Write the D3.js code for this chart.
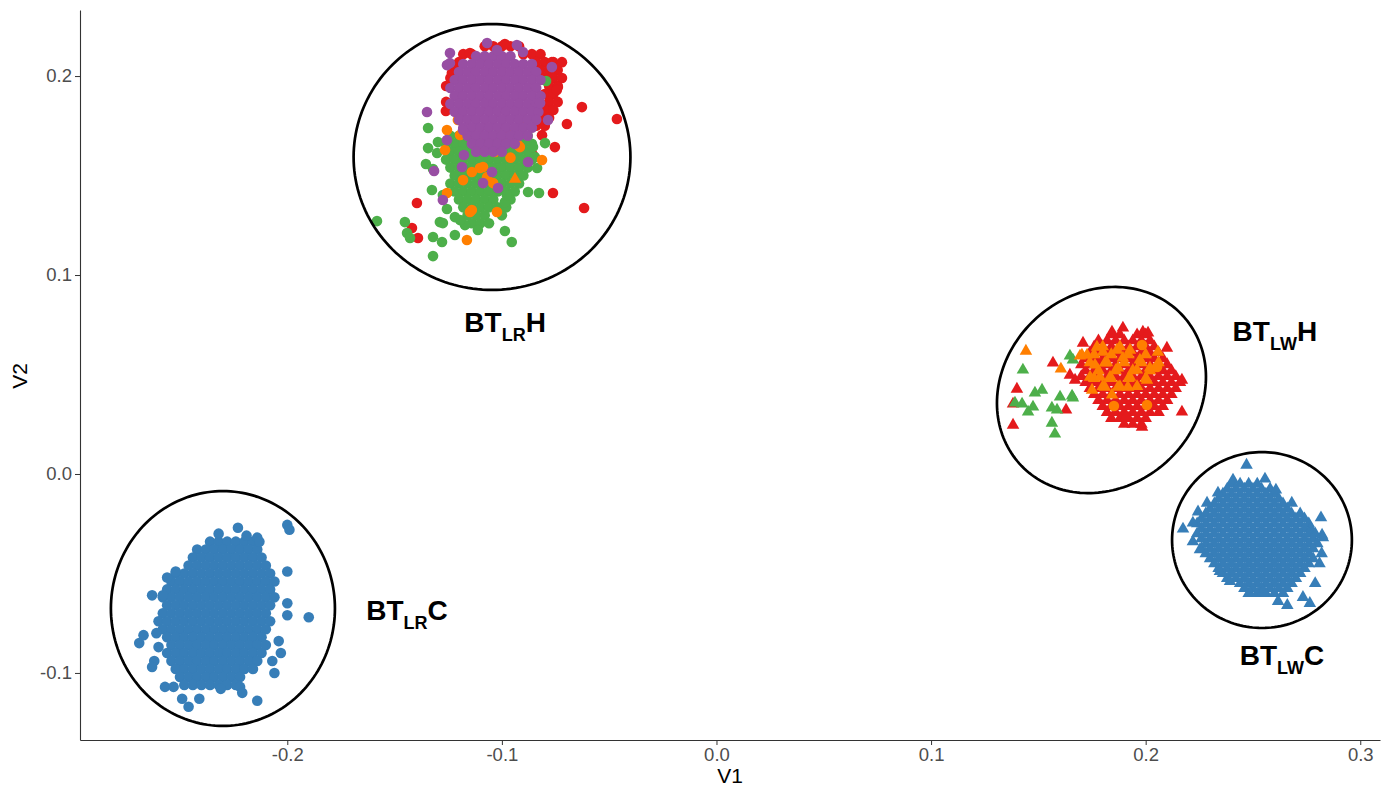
<!DOCTYPE html>
<html><head><meta charset="utf-8">
<script src="https://cdn.jsdelivr.net/npm/d3@7"></script>
<style>body{margin:0;background:#fff} text{font-family:"Liberation Sans",Arial,Helvetica,sans-serif}</style>
</head><body><svg id="c" width="1395" height="787"></svg>
<script>
// ---------- axis ticks ----------
const xTicks = [-0.2,-0.1,0.0,0.1,0.2,0.3];
const yTicks = [-0.1,0.0,0.1,0.2];
const xDomain = [-0.2966,0.3092];
const yDomain = [-0.1337,0.2332];

// ---------- colours (Set1) ----------
const colRed="#E41A1C", colBlue="#377EB8", colGreen="#4DAF4A", colPurple="#984EA3", colOrange="#FF7F00";

// rows are [V2, V1, V1, ...]
// ---------- BT_LR C (blue circles) ----------
const lrC_blueRows = [
 [-0.034,-0.236,-0.232,-0.228,-0.224,-0.220,-0.216],
 [-0.038,-0.242,-0.238,-0.234,-0.230,-0.226,-0.222,-0.218,-0.214],
 [-0.042,-0.244,-0.240,-0.236,-0.232,-0.228,-0.224,-0.220,-0.216,-0.212],
 [-0.046,-0.246,-0.242,-0.238,-0.234,-0.230,-0.226,-0.222,-0.218,-0.214,-0.210],
 [-0.050,-0.252,-0.248,-0.244,-0.240,-0.236,-0.232,-0.228,-0.224,-0.220,-0.216,-0.212,-0.208],
 [-0.054,-0.254,-0.250,-0.246,-0.242,-0.238,-0.234,-0.230,-0.226,-0.222,-0.218,-0.214,-0.210,-0.206],
 [-0.058,-0.256,-0.252,-0.248,-0.244,-0.240,-0.236,-0.232,-0.228,-0.224,-0.220,-0.216,-0.212,-0.208],
 [-0.062,-0.258,-0.254,-0.250,-0.246,-0.242,-0.238,-0.234,-0.230,-0.226,-0.222,-0.218,-0.214,-0.210,-0.206],
 [-0.066,-0.256,-0.252,-0.248,-0.244,-0.240,-0.236,-0.232,-0.228,-0.224,-0.220,-0.216,-0.212,-0.208],
 [-0.070,-0.258,-0.254,-0.250,-0.246,-0.242,-0.238,-0.234,-0.230,-0.226,-0.222,-0.218,-0.214,-0.210],
 [-0.074,-0.260,-0.256,-0.252,-0.248,-0.244,-0.240,-0.236,-0.232,-0.228,-0.224,-0.220,-0.216,-0.212,-0.208],
 [-0.078,-0.258,-0.254,-0.250,-0.246,-0.242,-0.238,-0.234,-0.230,-0.226,-0.222,-0.218,-0.214,-0.210],
 [-0.082,-0.256,-0.252,-0.248,-0.244,-0.240,-0.236,-0.232,-0.228,-0.224,-0.220,-0.216,-0.212],
 [-0.086,-0.254,-0.250,-0.246,-0.242,-0.238,-0.234,-0.230,-0.226,-0.222,-0.218,-0.214,-0.210],
 [-0.090,-0.256,-0.252,-0.248,-0.244,-0.240,-0.236,-0.232,-0.228,-0.224,-0.220,-0.216,-0.212],
 [-0.094,-0.254,-0.250,-0.246,-0.242,-0.238,-0.234,-0.230,-0.226,-0.222,-0.218,-0.214],
 [-0.098,-0.252,-0.248,-0.244,-0.240,-0.236,-0.232,-0.228,-0.224,-0.220,-0.216],
 [-0.102,-0.250,-0.246,-0.242,-0.238,-0.234,-0.230,-0.226,-0.222],
 [-0.106,-0.248,-0.244,-0.240,-0.236,-0.232,-0.228,-0.224]
];
const lrC_blue = [
 [-0.200,-0.0256],[-0.199,-0.028],[-0.190,-0.072],[-0.232,-0.030],[-0.223,-0.027],[-0.219,-0.031],
 [-0.214,-0.032],[-0.213,-0.034],[-0.200,-0.049],[-0.200,-0.065],[-0.200,-0.071],[-0.204,-0.084],
 [-0.203,-0.090],[-0.206,-0.100],[-0.214,-0.114],[-0.246,-0.117],[-0.249,-0.113],[-0.257,-0.107],
 [-0.253,-0.107],[-0.269,-0.085],[-0.267,-0.081],[-0.263,-0.061],[-0.258,-0.061],[-0.256,-0.052],
 [-0.252,-0.049],[-0.261,-0.080],[-0.260,-0.087],[-0.262,-0.094],[-0.263,-0.097],[-0.222,-0.107],
 [-0.221,-0.110],[-0.231,-0.108],[-0.241,-0.113],[-0.207,-0.094]
];

// ---------- BT_LW C (blue triangles) ----------
const lwC_blueRows = [
 [-0.0050,0.240,0.244,0.248,0.252],
 [-0.0075,0.238,0.242,0.246,0.250,0.254,0.258],
 [-0.0100,0.236,0.240,0.244,0.248,0.252,0.256,0.260],
 [-0.0125,0.234,0.238,0.242,0.246,0.250,0.254,0.258,0.262],
 [-0.0150,0.232,0.236,0.240,0.244,0.248,0.252,0.256,0.260,0.264],
 [-0.0175,0.230,0.234,0.238,0.242,0.246,0.250,0.254,0.258,0.262,0.266],
 [-0.0200,0.228,0.232,0.236,0.240,0.244,0.248,0.252,0.256,0.260,0.264,0.268,0.272],
 [-0.0225,0.226,0.230,0.234,0.238,0.242,0.246,0.250,0.254,0.258,0.262,0.266,0.270,0.274],
 [-0.0250,0.224,0.228,0.232,0.236,0.240,0.244,0.248,0.252,0.256,0.260,0.264,0.268,0.272,0.276],
 [-0.0275,0.226,0.230,0.234,0.238,0.242,0.246,0.250,0.254,0.258,0.262,0.266,0.270,0.274,0.277],
 [-0.0300,0.224,0.228,0.232,0.236,0.240,0.244,0.248,0.252,0.256,0.260,0.264,0.268,0.272,0.276,0.279],
 [-0.0325,0.226,0.230,0.234,0.238,0.242,0.246,0.250,0.254,0.258,0.262,0.266,0.270,0.274,0.278],
 [-0.0350,0.228,0.232,0.236,0.240,0.244,0.248,0.252,0.256,0.260,0.264,0.268,0.272,0.276,0.280],
 [-0.0375,0.226,0.230,0.234,0.238,0.242,0.246,0.250,0.254,0.258,0.262,0.266,0.270,0.274,0.278],
 [-0.0400,0.228,0.232,0.236,0.240,0.244,0.248,0.252,0.256,0.260,0.264,0.268,0.272,0.276],
 [-0.0425,0.230,0.234,0.238,0.242,0.246,0.250,0.254,0.258,0.262,0.266,0.270,0.274,0.278],
 [-0.0450,0.232,0.236,0.240,0.244,0.248,0.252,0.256,0.260,0.264,0.268,0.272,0.276],
 [-0.0475,0.234,0.238,0.242,0.246,0.250,0.254,0.258,0.262,0.266,0.270,0.274],
 [-0.0500,0.236,0.240,0.244,0.248,0.252,0.256,0.260,0.264,0.268,0.272],
 [-0.0525,0.238,0.242,0.246,0.250,0.254,0.258,0.262,0.266,0.270],
 [-0.0550,0.244,0.248,0.252,0.256,0.260,0.264,0.268],
 [-0.0575,0.246,0.250,0.254,0.258,0.262,0.266],
 [-0.0600,0.248,0.252,0.256,0.260,0.264]
];
const lwC_blue = [
 [0.247,0.0045],[0.2556,-0.0025],[0.2407,-0.003],[0.2607,-0.008],[0.2337,-0.0095],[0.2286,-0.0146],
 [0.2681,-0.0146],[0.2244,-0.019],[0.222,-0.0246],[0.2174,-0.0276],[0.2817,-0.022],[0.2822,-0.0307],
 [0.2826,-0.032],[0.222,-0.034],[0.2253,-0.038],[0.282,-0.040],[0.281,-0.045],[0.2346,-0.049],
 [0.2393,-0.054],[0.279,-0.055],[0.2486,-0.060],[0.2617,-0.064],[0.266,-0.066],[0.2733,-0.062],
 [0.2765,-0.065],[0.2547,-0.059]
];

// ---------- BT_LR H (circles) ----------
const lrH_redRows = [
 [0.215,-0.108,-0.104,-0.100,-0.096,-0.092],
 [0.211,-0.118,-0.114,-0.090,-0.086,-0.082],
 [0.207,-0.120,-0.084,-0.080,-0.076,-0.072],
 [0.203,-0.122,-0.082,-0.078,-0.074],
 [0.199,-0.124,-0.080,-0.076,-0.072],
 [0.195,-0.126,-0.078,-0.074],
 [0.191,-0.080,-0.076],
 [0.187,-0.126,-0.078,-0.074],
 [0.183,-0.080,-0.076],
 [0.179,-0.082,-0.078],
 [0.175,-0.084,-0.080]
];
const lrH_red = [
 [-0.1149,0.2116],[-0.0986,0.2161],[-0.1088,0.209],[-0.0767,0.207],[-0.0739,0.1945],[-0.0744,0.193],
 [-0.0627,0.1844],[-0.0464,0.1784],[-0.1261,0.1824],[-0.0697,0.1759],[-0.0753,0.1643],[-0.0813,0.1703],
 [-0.0855,0.1603],[-0.0762,0.1412],[-0.0617,0.1337],[-0.1396,0.1362],[-0.1419,0.1236],[-0.1391,0.1186],
 [-0.1233,0.2015]
];
const lrH_greenRows = [
 [0.170,-0.124,-0.120,-0.116,-0.112,-0.108,-0.104,-0.100,-0.096,-0.092,-0.088],
 [0.166,-0.126,-0.122,-0.118,-0.114,-0.110,-0.106,-0.102,-0.098,-0.094,-0.090,-0.086],
 [0.162,-0.124,-0.120,-0.116,-0.112,-0.108,-0.104,-0.100,-0.096,-0.092,-0.088],
 [0.158,-0.126,-0.122,-0.118,-0.114,-0.110,-0.106,-0.102,-0.098,-0.094,-0.090,-0.086],
 [0.154,-0.124,-0.120,-0.116,-0.112,-0.108,-0.104,-0.100,-0.096,-0.092,-0.088],
 [0.150,-0.122,-0.118,-0.114,-0.110,-0.106,-0.102,-0.098,-0.094,-0.090],
 [0.146,-0.124,-0.120,-0.116,-0.112,-0.108,-0.104,-0.100,-0.096,-0.092],
 [0.142,-0.122,-0.118,-0.114,-0.110,-0.106,-0.102,-0.098,-0.094],
 [0.138,-0.120,-0.116,-0.112,-0.108,-0.104,-0.096],
 [0.134,-0.118,-0.114,-0.110,-0.106,-0.102,-0.098],
 [0.130,-0.116,-0.112,-0.108,-0.100],
 [0.126,-0.114,-0.110,-0.106]
];
const lrH_green = [
 [-0.0794,0.1975],[-0.1344,0.1739],[-0.1298,0.1668],[-0.1344,0.1638],[-0.1302,0.1613],[-0.1354,0.1558],
 [-0.1321,0.1533],[-0.1326,0.1427],[-0.1275,0.1402],[-0.1256,0.1332],[-0.1582,0.1271],[-0.1452,0.1266],
 [-0.1442,0.1211],[-0.1428,0.1186],[-0.1289,0.1266],[-0.1275,0.1261],[-0.1321,0.1191],[-0.1279,0.1166],
 [-0.1321,0.1095],[-0.1219,0.1201],[-0.1172,0.1251],[-0.1219,0.1291],[-0.1195,0.1276],[-0.1112,0.1226],
 [-0.0986,0.1221],[-0.0954,0.1166],[-0.0986,0.1367],[-0.0977,0.1402],[-0.0878,0.1417],[-0.0827,0.1412],
 [-0.0836,0.1538],[-0.0846,0.1593],[-0.0799,0.1663],[-0.0855,0.1643]
];
const lrH_orange = [
 [-0.1256,0.1729],[-0.1265,0.1628],[-0.1181,0.1477],[-0.1140,0.1327],[-0.1023,0.1317],[-0.1163,0.1176],
 [-0.0813,0.1578],[-0.1088,0.1543],[-0.0995,0.1678],[-0.0925,0.1653],[-0.1205,0.1779],[-0.1195,0.1704],
 [-0.0977,0.1729],[-0.0916,0.1643],[-0.1032,0.1618],[-0.1102,0.1538],[-0.1140,0.1518],[-0.1069,0.1492],
 [-0.1041,0.1462],[-0.1149,0.1317],[-0.1256,0.1412],[-0.0906,0.1779],[-0.1100,0.1640],[-0.0960,0.1590]
];
const lrH_orangeTri = [[-0.0939,0.1482]];
const lrH_purpleRows = [
 [0.210,-0.112,-0.108,-0.104,-0.100,-0.096],
 [0.206,-0.118,-0.114,-0.110,-0.106,-0.102,-0.098,-0.094,-0.090,-0.086],
 [0.202,-0.120,-0.116,-0.112,-0.108,-0.104,-0.100,-0.096,-0.092,-0.088,-0.084],
 [0.198,-0.122,-0.118,-0.114,-0.110,-0.106,-0.102,-0.098,-0.094,-0.090,-0.086,-0.082],
 [0.194,-0.124,-0.120,-0.116,-0.112,-0.108,-0.104,-0.100,-0.096,-0.092,-0.088,-0.084],
 [0.190,-0.122,-0.118,-0.114,-0.110,-0.106,-0.102,-0.098,-0.094,-0.090,-0.086,-0.082],
 [0.186,-0.124,-0.120,-0.116,-0.112,-0.108,-0.104,-0.100,-0.096,-0.092,-0.088,-0.084],
 [0.182,-0.122,-0.118,-0.114,-0.110,-0.106,-0.102,-0.098,-0.094,-0.090,-0.086,-0.083],
 [0.178,-0.120,-0.116,-0.112,-0.108,-0.104,-0.100,-0.096,-0.092,-0.088,-0.084],
 [0.174,-0.118,-0.114,-0.110,-0.106,-0.102,-0.098,-0.094,-0.090,-0.086],
 [0.170,-0.116,-0.112,-0.108,-0.104,-0.100,-0.096,-0.092,-0.088],
 [0.166,-0.114,-0.110,-0.106,-0.102,-0.098,-0.094],
 [0.162,-0.112,-0.108,-0.104,-0.100]
];
const lrH_purple = [
 [-0.1069,0.2166],[-0.0930,0.2156],[-0.0902,0.2121],[-0.1242,0.2116],[-0.1256,0.2055],[-0.1242,0.2065],
 [-0.1023,0.2131],[-0.1349,0.1819],[-0.0785,0.1779],[-0.0767,0.2045],[-0.0822,0.1864],[-0.0878,0.1568],
 [-0.1046,0.1518],[-0.1088,0.1462],[-0.1018,0.1437],[-0.1275,0.1377],[-0.1316,0.1523],[-0.1177,0.1603],
 [-0.1186,0.1543],[-0.1256,0.1678],[-0.1181,0.1729]
];

// ---------- BT_LW H (triangles) ----------
const lwH_redRows = [
 [0.070,0.184,0.188,0.196,0.200],
 [0.067,0.178,0.182,0.186,0.190,0.194,0.198,0.202],
 [0.064,0.176,0.180,0.184,0.188,0.192,0.196,0.200,0.204],
 [0.061,0.174,0.178,0.182,0.186,0.190,0.194,0.198,0.202,0.206],
 [0.058,0.172,0.176,0.180,0.184,0.188,0.192,0.196,0.200,0.204,0.208],
 [0.055,0.170,0.174,0.178,0.182,0.186,0.190,0.194,0.198,0.202,0.206,0.210],
 [0.052,0.172,0.176,0.180,0.184,0.188,0.192,0.196,0.200,0.204,0.208,0.212],
 [0.049,0.170,0.174,0.178,0.182,0.186,0.190,0.194,0.198,0.202,0.206,0.210,0.214],
 [0.046,0.172,0.176,0.180,0.184,0.188,0.192,0.196,0.200,0.204,0.208,0.212,0.216],
 [0.043,0.174,0.178,0.182,0.186,0.190,0.194,0.198,0.202,0.206,0.210,0.214],
 [0.040,0.176,0.180,0.184,0.188,0.192,0.196,0.200,0.204,0.208,0.212],
 [0.037,0.178,0.182,0.186,0.190,0.194,0.198,0.202,0.206,0.210],
 [0.034,0.180,0.184,0.188,0.192,0.196,0.200,0.204,0.208],
 [0.031,0.182,0.186,0.190,0.194,0.198,0.202,0.206],
 [0.028,0.184,0.188,0.192,0.196,0.200],
 [0.025,0.190,0.194,0.198]
];
const lwH_red = [
 [0.1400,0.0427],[0.1382,0.0246],[0.1382,0.0352],[0.1568,0.0558],[0.1629,0.0322],[0.2169,0.0472],
 [0.2169,0.0312],[0.1983,0.0236],[0.1908,0.0286],[0.2099,0.0633],[0.1647,0.0497],[0.1671,0.0472],
 [0.1708,0.0658],[0.1843,0.0714],[0.1894,0.0734],[0.1987,0.0714],[0.2011,0.0709]
];
const lwH_green = [
 [0.1647,0.0593],[0.1661,0.0573],[0.1428,0.0523],[0.1517,0.0422],[0.1484,0.0407],[0.1601,0.0387],
 [0.1657,0.0392],[0.1661,0.0382],[0.1391,0.0357],[0.1424,0.0352],[0.1475,0.0337],[0.1452,0.0312],
 [0.1563,0.0332],[0.1587,0.0322],[0.1563,0.0256],[0.1577,0.0201]
];
const lwH_orangeRows = [
 [0.064,0.180,0.188],
 [0.060,0.176,0.184,0.192,0.200],
 [0.056,0.174,0.182,0.190,0.198,0.206],
 [0.052,0.178,0.186,0.194,0.202],
 [0.048,0.176,0.184,0.192,0.200],
 [0.044,0.180,0.188,0.196]
];
const lwH_orange = [
 [0.1727,0.0598],[0.1773,0.0638],[0.1801,0.0613],[0.1866,0.0623],[0.1894,0.0583],[0.1810,0.0558],
 [0.1871,0.0533],[0.1787,0.0487],[0.1810,0.0437],[0.1871,0.0437],[0.1927,0.0487],[0.2006,0.0472],
 [0.1959,0.0523],[0.2057,0.0613],[0.1741,0.0487],[0.1917,0.0437],[0.1703,0.0598],[0.1834,0.0487],
 [0.1764,0.0548],[0.1843,0.0397],[0.1973,0.0573],[0.2020,0.0533],[0.1927,0.0623],[0.1750,0.0422],
 [0.1442,0.0618],[0.1605,0.0528],[0.1694,0.0593]
];
const lwH_orangeDots = [[0.1983,0.0648],[0.2053,0.0538],[0.1852,0.0342],[0.2006,0.0347]];

// ---------- cluster ellipses (data units, rotation in degrees) ----------
const ellipses = [
 {cx:-0.1046, cy:0.1593, rx:0.0645, ry:0.0668, rot:0},
 {cx:-0.2300, cy:-0.0676, rx:0.0522, ry:0.0590, rot:0},
 {cx:0.1794, cy:0.0422, rx:0.0537, ry:0.0466, rot:58},
 {cx:0.2542, cy:-0.0332, rx:0.0419, ry:0.0442, rot:0}
];

// ---------- cluster labels ----------
const labels = [
 {pre:"BT", sub:"LR", post:"H", x:-0.1175, y:0.0714},
 {pre:"BT", sub:"LW", post:"H", x:0.2405, y:0.0668},
 {pre:"BT", sub:"LR", post:"C", x:-0.1632, y:-0.0734},
 {pre:"BT", sub:"LW", post:"C", x:0.2438, y:-0.0960}
];

// ================= drawing =================
const svg = d3.select("#c");
const x = d3.scaleLinear().domain(xDomain).range([80,1380]);
const y = d3.scaleLinear().domain(yDomain).range([740,10]);

const fromRows = rows => rows.flatMap(r => r.slice(1).map(v => [v, r[0]]));

const gPts = svg.append("g");
function dots(data, col){
  gPts.append("g").selectAll("circle").data(data).join("circle")
    .attr("cx", d=>x(d[0])).attr("cy", d=>y(d[1])).attr("r", 5.3).attr("fill", col);
}
const tri = d3.symbol().type(d3.symbolTriangle).size(68);
function tris(data, col){
  gPts.append("g").selectAll("path").data(data).join("path")
    .attr("d", tri).attr("transform", d=>`translate(${x(d[0])},${y(d[1])})`).attr("fill", col);
}

dots(fromRows(lrC_blueRows), colBlue); dots(lrC_blue, colBlue);
tris(fromRows(lwC_blueRows), colBlue); tris(lwC_blue, colBlue);
dots(fromRows(lrH_redRows), colRed); dots(lrH_red, colRed);
tris(fromRows(lwH_redRows), colRed); tris(lwH_red, colRed);
dots(fromRows(lrH_greenRows), colGreen); dots(lrH_green, colGreen);
tris(lwH_green, colGreen);
dots(lrH_orange, colOrange); tris(lrH_orangeTri, colOrange);
tris(fromRows(lwH_orangeRows), colOrange); tris(lwH_orange, colOrange); dots(lwH_orangeDots, colOrange);
dots(fromRows(lrH_purpleRows), colPurple); dots(lrH_purple, colPurple);

// ellipses
const eline = d3.line().curve(d3.curveLinearClosed);
ellipses.forEach(e=>{
  const th = e.rot*Math.PI/180, pts=[];
  for(let i=0;i<180;i++){
    const t=i/180*2*Math.PI;
    const dx=e.rx*Math.cos(t)*Math.cos(th)-e.ry*Math.sin(t)*Math.sin(th);
    const dy=e.rx*Math.cos(t)*Math.sin(th)+e.ry*Math.sin(t)*Math.cos(th);
    pts.push([x(e.cx+dx), y(e.cy+dy)]);
  }
  svg.append("path").attr("d", eline(pts)).attr("fill","none").attr("stroke","#000").attr("stroke-width",2.7);
});

// labels
labels.forEach(l=>{
  const t = svg.append("text").attr("x", x(l.x)).attr("y", y(l.y))
    .attr("font-weight","bold").style("font-size","28px").attr("fill","#000");
  t.append("tspan").text(l.pre);
  t.append("tspan").style("font-size","18px").attr("dy",9).text(l.sub);
  t.append("tspan").attr("dy",-9).text(l.post);
});

// axes
const font = "'Liberation Sans',Arial,Helvetica,sans-serif";
const fmt = d => d.toFixed(1);
const ax = svg.append("g").attr("transform","translate(0,740)")
  .call(d3.axisBottom(x).tickValues(xTicks).tickFormat(fmt).tickSize(5).tickPadding(3).tickSizeOuter(0));
const ay = svg.append("g").attr("transform","translate(80,0)")
  .call(d3.axisLeft(y).tickValues(yTicks).tickFormat(fmt).tickSize(5).tickPadding(3).tickSizeOuter(0));
[ax,ay].forEach(a=>{
  a.select(".domain").attr("stroke","#333").attr("stroke-width",1.1);
  a.selectAll(".tick line").attr("stroke","#333");
  a.selectAll(".tick text").attr("fill","#4D4D4D").style("font-size","18.5px").style("font-family",font);
});

svg.append("text").attr("x", 730).attr("y", 783).attr("text-anchor","middle")
  .style("font-size","21px").style("font-family",font).attr("fill","#000").text("V1");
svg.append("text").attr("transform","translate(27,376) rotate(-90)").attr("text-anchor","middle")
  .style("font-size","21px").style("font-family",font).attr("fill","#000").text("V2");
</script></body></html>
